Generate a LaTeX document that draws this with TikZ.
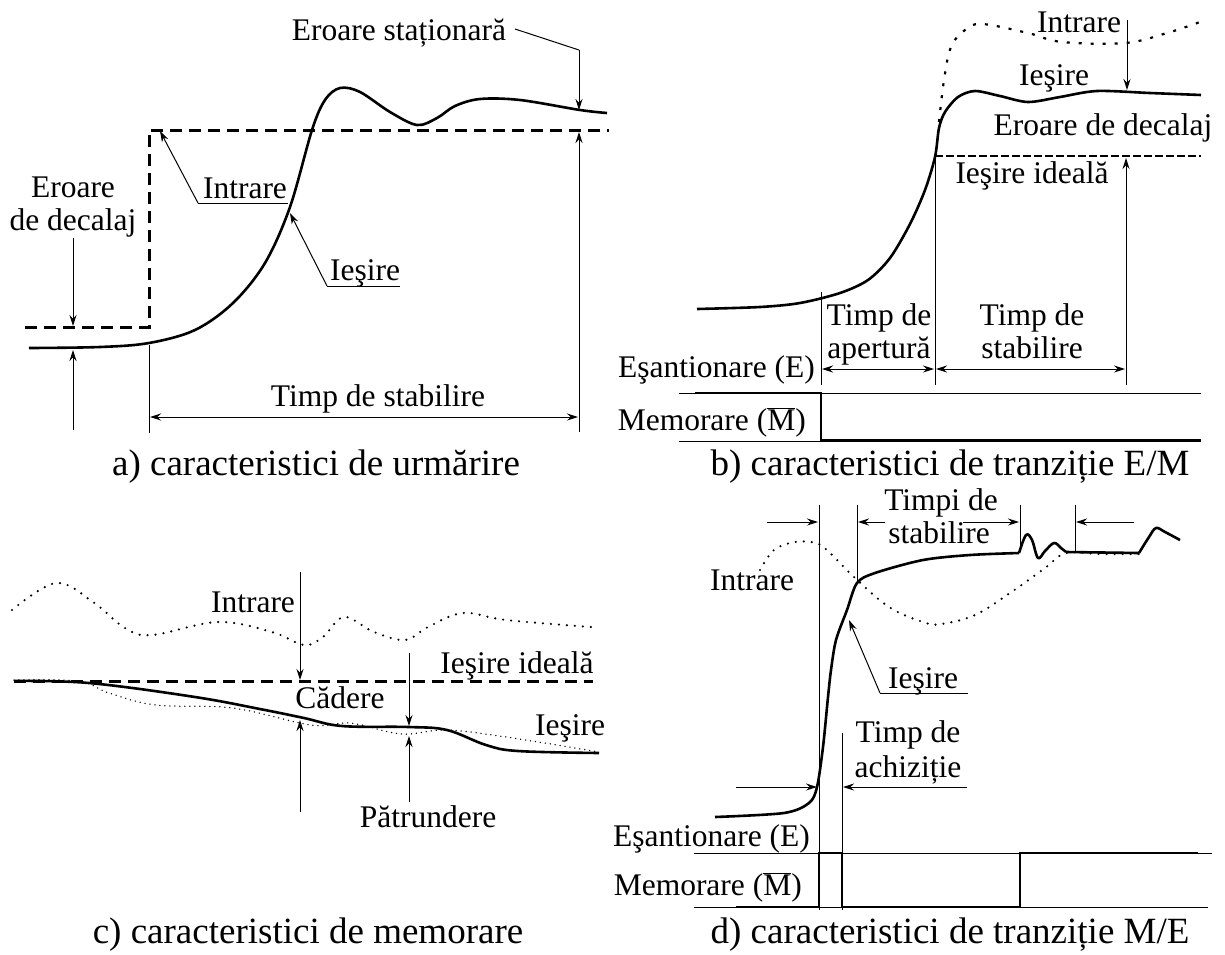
\documentclass[tikz,border=0pt]{standalone}
\usepackage{fontspec}
\setmainfont{Liberation Serif}
\usetikzlibrary{arrows.meta}
\begin{document}
\begin{tikzpicture}[x=1pt,y=-1pt,
  lbl/.style={font=\fontsize{31.5}{35}\selectfont, inner sep=0pt, anchor=base},
  lble/.style={font=\fontsize{31.5}{35}\selectfont, inner sep=0pt, anchor=base east},
  captxt/.style={font=\fontsize{37}{42}\selectfont, inner sep=0pt, anchor=base},
  fine/.style={line width=1pt},
  arr/.style={line width=1pt, -{Stealth[length=11pt,width=7pt]}},
  darr/.style={line width=1pt, {Stealth[length=11pt,width=7pt]}-{Stealth[length=11pt,width=7pt]}},
  sig/.style={line width=2.6pt, line join=round},
  pulse/.style={line width=2.2pt},
  ideal/.style={line width=3pt, dash pattern=on 12pt off 7pt},
  idealb/.style={line width=2.6pt, dash pattern=on 8pt off 3pt},
  inp/.style={line width=2.2pt, dash pattern=on 3pt off 9pt},
  dots/.style={line width=2.4pt, dash pattern=on 0pt off 8pt, line cap=round},
  fdots/.style={line width=1.5pt, dash pattern=on 0pt off 5pt, line cap=round}
]
\useasboundingbox (0,0) rectangle (1225,954);

% ================= a) =================
\draw[ideal] (25,327) -- (149,327) -- (149,130) -- (609,130);
\draw[sig] plot[smooth,tension=0.55] coordinates {(29,348) (100,347) (149,343) (195,330) (233,303) (265,263) (290,207) (312,130) (325,100) (340,88) (360,92) (390,112) (417,125) (437,118) (455,106) (480,99) (520,100) (580,110) (607,113)};
\node[lbl] (aes) at (399,40) {Eroare staționară};
\coordinate (aesA) at (515,29);
\coordinate (aesB) at (579,50);
\coordinate (aesT) at (579,110);
\draw[fine] (aesA) -- (aesB);
\draw[arr] (aesB) -- (aesT);
\node[lbl] (aer1) at (73,197) {Eroare};
\node[lbl] (aer2) at (73,230) {de decalaj};
\coordinate (adA) at (73,238);
\coordinate (adT) at (73,326);
\draw[arr] (adA) -- (adT);
\coordinate (auA) at (73,430);
\coordinate (auT) at (73,350);
\draw[arr] (auA) -- (auT);
\draw[fine] (149,345) -- (149,433);
\coordinate (arA) at (579,432);
\coordinate (arT) at (579,132);
\draw[arr] (arA) -- (arT);
\node[lbl] (ats) at (378,406) {Timp de stabilire};
\coordinate (atL) at (150,417);
\coordinate (atR) at (578,417);
\draw[darr] (atL) -- (atR);
\node[lbl] (ain) at (245,198) {Intrare};
\coordinate (ainU) at (198,203);
\coordinate (ainT) at (160,131);
\draw[fine] (ainU) -- (288,203);
\draw[arr] (ainU) -- (ainT);
\node[lbl] (aie) at (365,280) {Ieşire};
\coordinate (aieU) at (327,286);
\coordinate (aieT) at (290,213);
\draw[fine] (aieU) -- (400,286);
\draw[arr] (aieU) -- (aieT);
\node[captxt] (capa) at (316,475) {a) caracteristici de urmărire};

% ================= b) =================
\draw[sig] plot[smooth,tension=0.5] coordinates {(697,309) (760,307) (800,303) (840,293) (868,280) (890,258) (910,224) (925,190) (935,157) (939,128) (945,112) (958,97) (975,91) (1000,96) (1028,102) (1060,97) (1097,91) (1150,93) (1201,95)};
\draw[idealb] (935,156) -- (1201,156);
\draw[inp] plot[smooth,tension=0.6] coordinates {(939,122) (944,80) (951,47) (965,30) (982,24) (1028,33) (1062,42) (1125,43) (1167,33) (1200,22)};
\node[lbl] (bin) at (1079,32) {Intrare};
\coordinate (binA) at (1127,20);
\coordinate (binT) at (1127,90);
\draw[arr] (binA) -- (binT);
\node[lbl] (bie) at (1054,85) {Ieşire};
\node[lbl] (bed) at (1103,135) {Eroare de decalaj};
\node[lbl] (bii) at (1032,183) {Ieşire ideală};
\coordinate (buA) at (1126,385);
\coordinate (buT) at (1126,158);
\draw[arr] (buA) -- (buT);
\draw[fine] (935,156) -- (935,385);
\draw[fine] (821,292) -- (821,385);
\node[lbl] (bta1) at (879,325) {Timp de};
\node[lbl] (bta2) at (879,358) {apertură};
\draw[darr] (822,369) -- (934,369);
\node[lbl] (bts1) at (1032,325) {Timp de};
\node[lbl] (bts2) at (1032,358) {stabilire};
\draw[darr] (936,369) -- (1125,369);
\draw[fine] (679,393) -- (1201,393);
\draw[fine] (679,441) -- (1201,441);
\draw[pulse] (695,393) -- (821,393) -- (821,440) -- (1201,440);
\node[lble] (bE) at (815,377) {Eşantionare (E)};
\node[lble] (bM) at (806,430) {Memorare ($\overline{\hbox{M}}$)};
\node[captxt] (capb) at (950,475) {b) caracteristici de tranziție E/M};

% ================= c) =================
\draw[dots] plot[smooth,tension=0.6] coordinates {(12,610) (56,583) (93,602) (125,628) (152,635) (218,622) (272,632) (304,645) (323,637) (344,617) (374,632) (405,640) (428,627) (463,613) (506,620) (591,627)};
\draw[ideal] (14,681) -- (593,681);
\draw[sig] plot[smooth,tension=0.6] coordinates {(14,681) (89,683) (195,697) (265,710) (304,718) (342,726) (409,727) (447,730) (486,745) (518,751) (599,753)};
\draw[fdots] plot[smooth,tension=0.6] coordinates {(14,680) (78,681) (109,693) (156,705) (233,708) (311,725) (350,723) (389,732) (409,734) (447,730) (506,737) (599,752)};
\node[lbl] (cin) at (253,612) {Intrare};
\coordinate (cdA) at (300,572);
\coordinate (cdT) at (300,680);
\draw[arr] (cdA) -- (cdT);
\coordinate (cuA) at (300,812);
\coordinate (cuT) at (300,720);
\draw[arr] (cuA) -- (cuT);
\node[lbl] (ccd) at (340,708) {Cădere};
\node[lbl] (cii) at (517,673) {Ieşire ideală};
\coordinate (cd2A) at (409,653);
\coordinate (cd2T) at (409,726);
\draw[arr] (cd2A) -- (cd2T);
\coordinate (cu2A) at (409,802);
\coordinate (cu2T) at (409,736);
\draw[arr] (cu2A) -- (cu2T);
\node[lbl] (cie) at (570,735) {Ieşire};
\node[lbl] (cpt) at (428,827) {Pătrundere};
\node[captxt] (capc) at (308,943) {c) caracteristici de memorare};

% ================= d) =================
\draw[fine] (819,505) -- (819,910);
\draw[fine] (857,505) -- (857,582);
\draw[fine] (1020,505) -- (1020,552);
\draw[fine] (1075,505) -- (1075,552);
\draw[arr] (767,522) -- (818,522);
\draw[arr] (885,522) -- (858,522);
\draw[arr] (963,522) -- (1019,522);
\draw[arr] (1134,522) -- (1076,522);
\node[lbl] (dts1) at (941,510) {Timpi de};
\node[lbl] (dts2) at (939,543) {stabilire};
\draw[dots] plot[smooth,tension=0.6] coordinates {(760,570) (774,550) (795,542) (816,543) (829,552) (854,577) (889,607) (923,622) (941,624) (975,615) (1010,593) (1045,568) (1066,553) (1100,554) (1139,554)};
\draw[sig] plot[smooth,tension=0.5] coordinates {(715,817) (784,813) (809,803) (817,787) (823,747) (828,697) (831,670) (836,640) (847,610) (857,583) (875,573) (923,560) (970,555) (1019,553)};
\draw[sig] plot[smooth,tension=0.6] coordinates {(1019,553) (1026,535) (1032,540) (1038,558) (1045,551) (1054,543) (1061,548) (1066,552)};
\draw[sig] (1066,552) -- (1139,553);
\draw[sig] plot[smooth,tension=0.6] coordinates {(1139,553) (1149,537) (1156,528) (1165,532) (1180,540)};
\node[lbl] (din) at (752,590) {Intrare};
\node[lbl] (die) at (923,688) {Ieşire};
\coordinate (dieU) at (880,693);
\coordinate (dieT) at (849,620);
\draw[fine] (dieU) -- (968,693);
\draw[arr] (dieU) -- (dieT);
\node[lbl] (dta1) at (908,742) {Timp de};
\node[lbl] (dta2) at (908,777) {achiziție};
\draw[fine] (842,733) -- (842,910);
\draw[arr] (736,787) -- (817,787);
\draw[arr] (967,787) -- (843,787);
\draw[fine] (694,853) -- (1212,853);
\draw[fine] (694,907) -- (1208,907);
\draw[pulse] (736,907) -- (819,907) -- (819,853) -- (842,853) -- (842,907) -- (1020,907) -- (1020,853) -- (1198,853);
\node[lble] (dE) at (810,846) {Eşantionare (E)};
\node[lble] (dM) at (802,895) {Memorare ($\overline{\hbox{M}}$)};
\node[captxt] (capd) at (950,943) {d) caracteristici de tranziție M/E};
\end{tikzpicture}
\end{document}
